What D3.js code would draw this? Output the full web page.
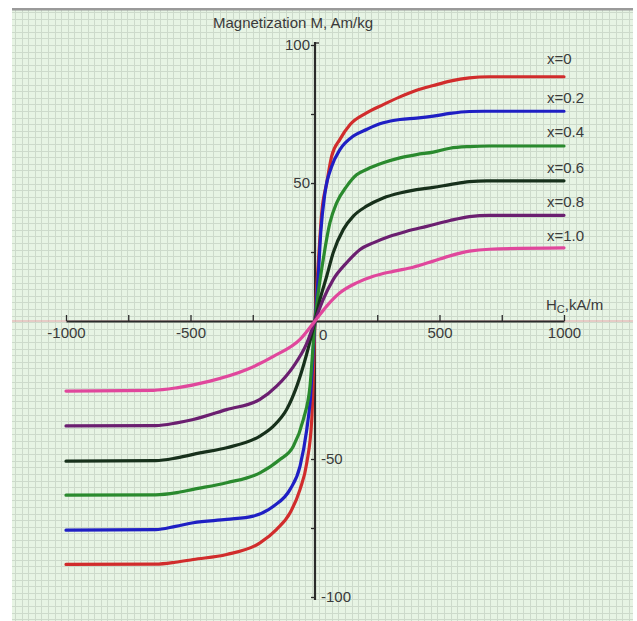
<!DOCTYPE html>
<html>
<head>
<meta charset="utf-8">
<script src="https://cdn.jsdelivr.net/npm/d3@7/dist/d3.min.js"></script>
<style>
  html, body { margin: 0; padding: 0; background: #ffffff; }
  svg { display: block; }
  text { font-family: "Liberation Sans", Arial, sans-serif; fill: #3a3a3a; }
</style>
</head>
<body>
<svg id="chart" width="637" height="621"></svg>
<script>
// Magnetization curves M(H) for the x = 0 … 1.0 series, [H (kA/m), M (Am/kg)]
const curveX00 = [[-1000,-88.2],[-640,-88.1],[-560,-87.4],[-489,-86.4],[-355,-84.6],[-221,-80.4],[-154,-75.5],[-100,-69.5],[-60,-61],[-33,-51.4],[-13,-35.7],[0,0],
  [14,22],[27,39.2],[47,50],[67,59.7],[100,65.8],[141,71.2],[207,75.4],[274,78.4],[341,81.2],[408,83.6],[475,85.3],[542,86.9],[620,88.1],[700,88.5],[1000,88.5]];
const curveX02 = [[-1000,-75.8],[-640,-75.6],[-560,-74.4],[-489,-73.1],[-355,-71.9],[-248,-70.7],[-167,-67.1],[-100,-61],[-60,-52.6],[-33,-39.3],[-20,-29.6],[0,0],
  [13,16.2],[23,32],[40,46.4],[67,56],[100,62.1],[154,67],[207,69.4],[274,71.8],[341,73],[408,73.5],[475,74.2],[542,75.2],[620,75.9],[680,76],[1000,76]];
const curveX04 = [[-1000,-63.1],[-640,-63],[-555,-62.2],[-489,-61],[-355,-58.6],[-221,-55],[-141,-50.2],[-87,-45.4],[-47,-35.7],[-20,-23.6],[0,0],
  [13,10.2],[33,22.3],[60,35.6],[87,42.8],[127,48.8],[167,53],[207,54.9],[274,57.3],[341,59.1],[408,60.3],[475,61.2],[542,62.6],[620,63.2],[700,63.4],[1000,63.4]];
const curveX06 = [[-1000,-50.8],[-640,-50.6],[-555,-49.6],[-462,-47.8],[-355,-45.9],[-221,-41.7],[-167,-38.1],[-114,-32.1],[-73,-23.6],[-35,-12.5],[0,0],
  [20,7.8],[47,16.2],[73,24.7],[114,33.2],[154,38],[207,41.6],[274,44.6],[341,46.4],[408,47.6],[475,48.4],[542,49.4],[620,50.5],[690,50.8],[1000,50.8]];
const curveX08 = [[-1000,-38],[-640,-37.9],[-555,-36.9],[-489,-35.7],[-355,-32.1],[-221,-28.4],[-154,-23.6],[-87,-16.5],[-35,-8.5],[0,0],
  [33,7.8],[73,15],[127,21.1],[181,25.9],[234,28.3],[301,30.7],[368,32.5],[449,34.3],[542,36.4],[620,37.8],[700,38.3],[1000,38.3]];
const curveX10 = [[-1000,-25.4],[-649,-25.1],[-555,-24.2],[-422,-21.8],[-274,-17.6],[-167,-12.8],[-60,-6.7],[0,0],
  [47,5.4],[100,10.2],[167,13.8],[234,16.2],[314,18],[394,19.5],[475,21.7],[542,23.6],[620,25.3],[700,26],[1000,26.5]];

const seriesNames = ["x=0", "x=0.2", "x=0.4", "x=0.6", "x=0.8", "x=1.0"];
const seriesData = [curveX00, curveX02, curveX04, curveX06, curveX08, curveX10];
const seriesColors = ["#d12c2c", "#1f1fc4", "#2a8a2e", "#17301b", "#6b1f70", "#e0479c"];

const xTicks = [-1000, -750, -500, -250, 250, 500, 750, 1000];
const xTickLabels = [-1000, -500, 500, 1000];
const yTicks = [-100, -75, -50, -25, 25, 50, 75, 100];

const svg = d3.select("#chart");

// graph-paper background
const frame = { x0: 12, y0: 8, x1: 633, y1: 621 };
svg.append("rect")
  .attr("x", frame.x0).attr("y", frame.y0)
  .attr("width", frame.x1 - frame.x0).attr("height", frame.y1 - frame.y0)
  .attr("fill", "#e7f4e4");

const step = 6.6;
const grid = svg.append("g").attr("stroke", "#cddacb").attr("stroke-width", 1);
d3.range(frame.x0 + 3, frame.x1, step).forEach(v => {
  grid.append("line").attr("x1", Math.round(v) + 0.5).attr("x2", Math.round(v) + 0.5)
    .attr("y1", frame.y0).attr("y2", frame.y1);
});
d3.range(frame.y0 + 4, frame.y1, step).forEach(v => {
  grid.append("line").attr("y1", Math.round(v) + 0.5).attr("y2", Math.round(v) + 0.5)
    .attr("x1", frame.x0).attr("x2", frame.x1);
});
svg.append("rect")
  .attr("x", frame.x0).attr("y", frame.y0)
  .attr("width", frame.x1 - frame.x0).attr("height", 2.5)
  .attr("fill", "#9a9a9a");

// scales
const x = d3.scaleLinear().domain([-1000, 1000]).range([66, 564]);
const y = d3.scaleLinear().domain([-100, 100]).range([597, 45]);

// faint zero line across the whole frame
svg.append("line")
  .attr("x1", frame.x0).attr("x2", frame.x1)
  .attr("y1", y(0)).attr("y2", y(0))
  .attr("stroke", "#e6a4a8").attr("stroke-width", 1.2);

// x axis through M = 0
const xAxis = svg.append("g")
  .attr("transform", `translate(0,${y(0)})`)
  .call(d3.axisBottom(x).tickValues(xTicks).tickSize(-6).tickSizeOuter(0)
    .tickFormat(d => xTickLabels.includes(d) ? String(d) : ""));
xAxis.select(".domain").attr("stroke", "#2a2a2a").attr("stroke-width", 2.2);
xAxis.selectAll(".tick line").attr("stroke", "#2a2a2a").attr("stroke-width", 1.3);
xAxis.selectAll(".tick text")
  .style("font-family", "'Liberation Sans', Arial, sans-serif")
  .style("font-size", "15px").attr("fill", "#444").attr("y", 6);

// y axis through H = 0
const yAxis = svg.append("g")
  .attr("transform", `translate(${x(0)},0)`)
  .call(d3.axisLeft(y).tickValues(yTicks).tickSize(4).tickSizeOuter(0).tickFormat(""));
yAxis.select(".domain").remove();
yAxis.append("line")
  .attr("x1", 0).attr("x2", 0).attr("y1", y(100) - 3).attr("y2", y(-100) + 3)
  .attr("stroke", "#2a2a2a").attr("stroke-width", 2.2);
yAxis.selectAll(".tick line").attr("stroke", "#2a2a2a").attr("stroke-width", 1.3);
yAxis.append("line")
  .attr("x1", 0).attr("x2", 4).attr("y1", y(100) - 2).attr("y2", y(100) - 2)
  .attr("stroke", "#2a2a2a").attr("stroke-width", 1.3);

// y tick labels: positive ones left of the axis, negative ones right of it
const yLab = svg.append("g").style("font-size", "15px");
[100, 50].forEach(v => {
  yLab.append("text").attr("x", x(0) - 5).attr("y", y(v) + 5)
    .attr("text-anchor", "end").text(v);
});
[-50, -100].forEach(v => {
  yLab.append("text").attr("x", x(0) + 6).attr("y", y(v) + 5)
    .attr("text-anchor", "start").text(String(v));
});
yLab.append("text").attr("x", x(0) + 4).attr("y", y(0) + 19)
  .attr("text-anchor", "start").text("0");

// axis titles
svg.append("text").attr("x", 213).attr("y", 28)
  .style("font-size", "15px").text("Magnetization M, Am/kg");
const hLab = svg.append("text").attr("x", 546).attr("y", 310).style("font-size", "15px");
hLab.append("tspan").text("H");
hLab.append("tspan").attr("dy", 3).style("font-size", "11px").text("C");
hLab.append("tspan").attr("dy", -3).text(",kA/m");

// curves
const line = d3.line()
  .x(d => x(d[0]))
  .y(d => y(d[1]))
  .curve(d3.curveMonotoneX);

const curves = svg.append("g").attr("fill", "none")
  .attr("stroke-width", 3.2).attr("stroke-linejoin", "round").attr("stroke-linecap", "round");
seriesData.forEach((d, i) => {
  curves.append("path").datum(d).attr("d", line).attr("stroke", seriesColors[i]);
});

// series labels
const labelY = [64, 103, 137, 173, 207, 241];
seriesNames.forEach((n, i) => {
  svg.append("text").attr("x", 547).attr("y", labelY[i])
    .style("font-size", "15px").text(n);
});
</script>
</body>
</html>
